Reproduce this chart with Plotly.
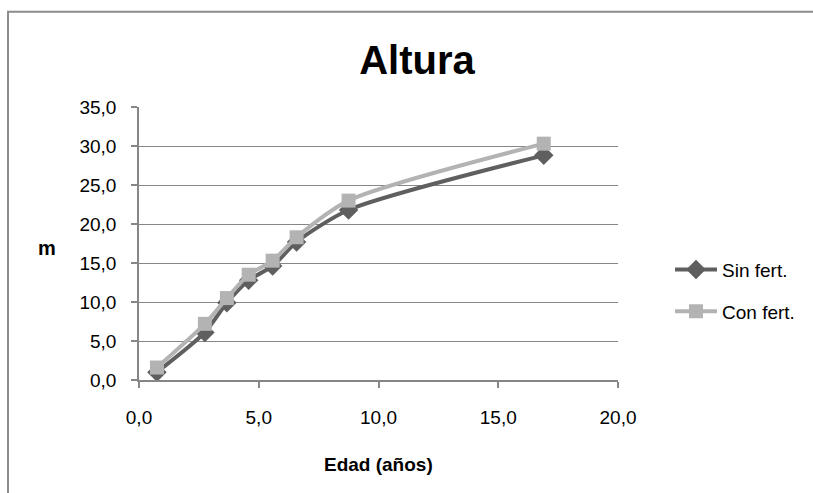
import plotly.graph_objects as go

edad = [0.75, 2.75, 3.67, 4.58, 5.58, 6.58, 8.75, 16.9]
sin_fert = [1.0, 6.1, 9.9, 12.8, 14.6, 17.7, 21.8, 28.8]
con_fert = [1.6, 7.2, 10.5, 13.5, 15.3, 18.3, 23.0, 30.3]

FONT = "Liberation Sans Narrow, Arial Narrow, Liberation Sans, sans-serif"
W, H = 813, 493
L, R, T, B = 139, 618, 107.3, 380.5

def px_x(p):
    return (p - L) / (R - L)

def px_y(p):
    return (B - p) / (B - T)

fig = go.Figure()
fig.add_trace(go.Scatter(
    x=edad, y=sin_fert, name="Sin fert.", mode="lines+markers",
    line=dict(color="#5f5f5f", width=4, shape="spline", smoothing=0.7),
    marker=dict(symbol="diamond", size=15, color="#5f5f5f"),
    legendgroup="a"))
fig.add_trace(go.Scatter(
    x=edad, y=con_fert, name="Con fert.", mode="lines+markers",
    line=dict(color="#b3b3b3", width=4, shape="spline", smoothing=0.7),
    marker=dict(symbol="square", size=14, color="#b3b3b3"),
    legendgroup="b"))

axis_common = dict(showline=True, linecolor="#868686", linewidth=1.5,
                   ticks="outside", ticklen=6, tickcolor="#868686", tickwidth=1.5,
                   tickfont=dict(family=FONT, size=19, color="#000000"),
                   zeroline=False, tickformat=".1f")

fig.update_xaxes(range=[0, 20], dtick=5, showgrid=False,
                 ticklabelstandoff=13, **axis_common)
fig.update_yaxes(range=[0, 35], dtick=5, showgrid=True, gridcolor="#868686",
                 gridwidth=1.3, ticklabelstandoff=11, **axis_common)

fig.update_layout(
    width=W, height=H,
    margin=dict(l=L, r=W - R, t=T, b=H - B, pad=0),
    paper_bgcolor="white", plot_bgcolor="white",
    separators=", ",
    font=dict(family=FONT, color="#000000"),
    title=dict(text="<b>Altura</b>", x=417 / W, xanchor="center",
               y=1 - 60 / H, yanchor="middle", yref="container",
               font=dict(family=FONT, size=40, color="#000000")),
    showlegend=True,
    legend=dict(x=px_x(670), xanchor="left", y=px_y(251), yanchor="top",
                font=dict(family=FONT, size=19, color="#000000"),
                tracegroupgap=14, itemwidth=42, bgcolor="rgba(0,0,0,0)"),
    annotations=[
        dict(text="<b>m</b>", x=px_x(47), y=px_y(248), xref="paper", yref="paper",
             showarrow=False, xanchor="center", yanchor="middle",
             font=dict(family=FONT, size=20, color="#000000")),
        dict(text="<b>Edad (años)</b>", x=px_x(378), y=px_y(465), xref="paper",
             yref="paper", showarrow=False, xanchor="center", yanchor="middle",
             font=dict(family=FONT, size=19, color="#000000")),
    ],
    shapes=[dict(type="rect", xref="paper", yref="paper",
                 x0=px_x(8), x1=px_x(900), y0=px_y(600), y1=px_y(12),
                 line=dict(color="#8c8c8c", width=2), fillcolor="rgba(0,0,0,0)",
                 layer="below")],
)

fig.write_html("out.html")
